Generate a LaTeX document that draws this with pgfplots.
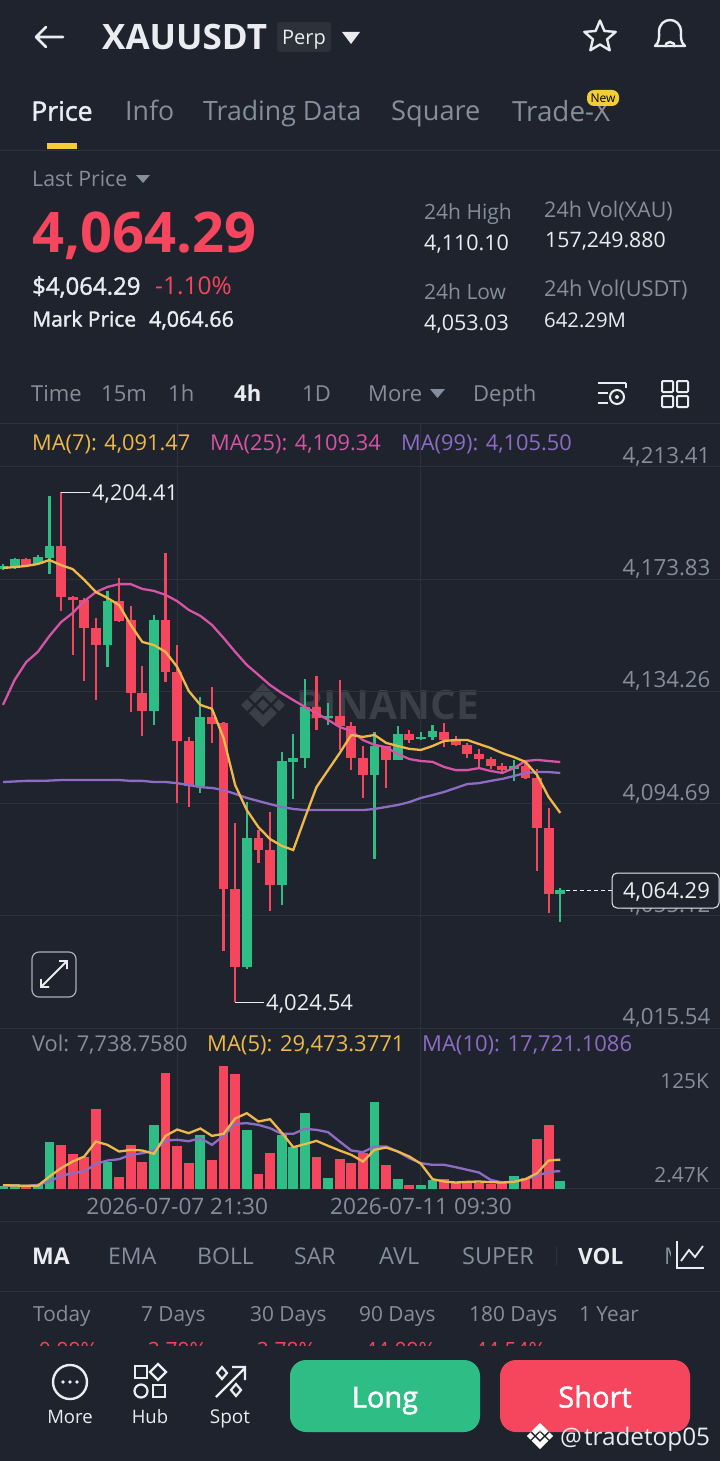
\documentclass[border=0pt]{standalone}
\usepackage{pgfplots}
\usepackage{pgfplotstable}
\pgfplotsset{compat=1.18}
\usepackage{fontspec}
\setmainfont{Open Sans}
\newfontfamily\semi[FakeBold=1.6]{Open Sans}
\definecolor{bg}{HTML}{1E232D}
\definecolor{gridc}{HTML}{2C313A}
\definecolor{up}{HTML}{2EBD85}
\definecolor{dn}{HTML}{F6465D}
\definecolor{gry}{HTML}{848E9C}
\definecolor{wht}{HTML}{EAECEF}
\definecolor{ylw}{HTML}{EEB84A}
\definecolor{pnk}{HTML}{D653A6}
\definecolor{prp}{HTML}{8E6CC4}
\definecolor{wm}{HTML}{3A3F48}
\pgfplotstableread{
i o h l c
0 4177.4 4179.2 4177.1 4178.5
1 4178.5 4181.3 4177.4 4181.0
3 4179.2 4182.4 4178.8 4181.7
4 4181.3 4203.2 4175.7 4185.5
9 4150.6 4169.7 4142.9 4166.1
13 4127.4 4161.2 4122.4 4159.4
17 4100.9 4132.3 4098.4 4125.2
21 4037.1 4095.2 4036.4 4082.6
24 4066.0 4112.9 4058.9 4109.7
25 4109.4 4119.2 4096.3 4110.8
26 4110.8 4138.6 4107.2 4128.8
28 4124.9 4130.2 4122.4 4125.6
32 4104.8 4119.9 4075.1 4115.0
34 4110.1 4122.1 4110.1 4119.2
36 4117.5 4119.9 4117.1 4118.2
37 4118.2 4122.4 4117.1 4120.3
44 4106.9 4110.1 4102.7 4108.0
48 4062.8 4064.9 4052.9 4064.29
}\upc
\pgfplotstableread{
i o h l c
2 4181.0 4181.3 4178.5 4178.8
5 4185.5 4204.41 4162.6 4167.6
6 4167.6 4167.9 4147.1 4166.5
7 4166.5 4167.2 4137.9 4156.6
8 4156.6 4160.2 4131.2 4150.6
10 4166.1 4174.3 4158.7 4159.1
11 4159.4 4164.4 4127.0 4133.7
12 4133.7 4143.2 4118.5 4127.4
14 4159.4 4183.1 4137.6 4141.1
15 4141.1 4150.6 4094.9 4116.8
16 4116.8 4118.2 4093.5 4100.9
18 4125.2 4135.8 4116.1 4122.8
19 4123.1 4123.5 4042.7 4064.6
20 4064.6 4087.8 4024.54 4037.1
22 4082.6 4085.4 4073.7 4078.3
23 4078.3 4091.7 4056.8 4066.0
27 4128.8 4139.7 4120.7 4124.9
29 4125.6 4138.3 4113.6 4122.1
30 4122.1 4123.5 4106.5 4110.8
31 4110.8 4115.0 4096.7 4104.8
33 4115.0 4115.0 4100.2 4110.1
35 4119.2 4120.7 4116.1 4117.1
38 4119.9 4123.1 4114.6 4117.1
39 4116.8 4118.5 4115.0 4115.4
40 4115.4 4116.1 4110.8 4112.2
41 4112.2 4113.9 4107.6 4110.4
42 4110.4 4111.1 4106.9 4108.0
43 4108.0 4109.0 4105.8 4106.5
45 4108.0 4109.4 4103.4 4103.7
46 4103.7 4106.9 4070.9 4086.1
47 4086.1 4093.1 4056.1 4062.8
}\dnc
\pgfplotstableread{
i a b d
0 4177.8 4129.5 4102.3
1 4178.1 4138.3 4102.5
2 4178.5 4144.6 4102.7
3 4179.2 4148.2 4102.7
4 4180.6 4153.8 4102.8
5 4178.8 4158.7 4103.0
6 4177.4 4161.9 4103.0
7 4173.6 4166.1 4103.0
8 4169.3 4169.3 4103.0
9 4167.2 4171.1 4103.0
10 4164.7 4172.1 4103.0
11 4157.7 4172.1 4102.7
12 4151.7 4170.4 4102.7
13 4150.6 4169.7 4102.3
14 4148.2 4168.3 4102.3
15 4142.9 4166.1 4101.9
16 4134.4 4163.0 4101.2
17 4129.5 4160.9 4100.5
18 4128.1 4157.7 4100.2
19 4117.8 4153.1 4099.5
20 4101.2 4148.2 4098.1
21 4092.4 4143.6 4096.7
22 4086.4 4140.1 4095.6
23 4082.2 4136.5 4094.5
24 4079.8 4133.7 4093.5
25 4078.3 4131.2 4092.8
26 4089.6 4128.8 4092.4
27 4100.5 4126.6 4092.4
28 4106.5 4124.2 4092.4
29 4112.5 4121.7 4092.4
30 4118.9 4120.3 4092.4
31 4118.2 4117.1 4092.4
32 4118.9 4115.4 4092.8
33 4116.1 4114.6 4093.5
34 4115.0 4112.2 4094.2
35 4114.0 4110.4 4095.2
36 4113.6 4109.7 4096.7
37 4115.0 4109.4 4097.7
38 4116.8 4107.6 4098.8
39 4117.1 4106.5 4100.2
40 4117.1 4106.5 4101.6
41 4115.7 4107.2 4101.9
42 4114.3 4106.2 4102.7
43 4112.5 4105.5 4103.4
44 4111.1 4107.2 4104.4
45 4109.4 4109.7 4105.5
46 4104.8 4110.1 4105.8
47 4097.0 4109.7 4105.8
48 4091.4 4109.34 4105.5
}\pma
\pgfplotstableread{
i v
0 2470
1 4400
3 4400
4 47600
9 27500
13 64600
17 54400
21 59200
24 54800
25 42800
26 76800
28 10900
32 88000
34 9200
36 3400
37 8200
44 12500
48 7739
}\vup
\pgfplotstableread{
i v
2 2750
5 44600
6 35700
7 32600
8 80900
10 12200
11 44600
12 27500
14 118300
15 43600
16 25800
18 28600
19 125000
20 116600
22 15000
23 36000
27 31900
29 29900
30 26500
31 36700
33 23500
35 3400
38 9900
39 6100
40 6100
41 6100
42 4400
43 6100
45 11200
46 50700
47 65000
}\vdn
\pgfplotstableread{
i a b
0 3400 2720
1 3060 2720
2 2720 2720
3 2720 3740
4 12240 7140
5 20740 12920
6 27540 15640
7 32640 17340
8 47940 25160
9 44540 28560
10 37740 29920
11 39440 34340
12 38760 36040
13 35360 38760
14 53720 48960
15 60180 49640
16 56440 48280
17 61200 51340
18 53720 44540
19 55760 53720
20 71400 65960
21 76840 66640
22 68340 64940
23 70720 61540
24 57120 55760
25 42160 55760
26 45220 60860
27 48620 59840
28 43520 57460
29 38760 47940
30 34340 38760
31 27540 37060
32 39440 42840
33 41820 42840
34 37740 37740
35 32640 30940
36 25160 25840
37 9520 24140
38 7140 24140
39 6120 21760
40 6800 19040
41 7140 16320
42 6460 8840
43 6120 6120
44 6800 7140
45 9520 9520
46 15640 12920
47 28560 17000
48 29473 17721
}\vma
\newcommand{\T}[6][base west]{\node[anchor=#1,inner sep=0pt,text=#5,font=\fontsize{#4}{#4}\selectfont,yshift={-0.36pt*#4}] at (#2,#3) {#6};}
\newcommand{\Logo}[4]{\begin{scope}[shift={(#1,#2)},scale=#3]
\fill[#4] (0,-22)--(14,-8)--(8,-2)--(0,-10)--(-8,-2)--(-14,-8)--cycle;
\fill[#4] (0,22)--(14,8)--(8,2)--(0,10)--(-8,2)--(-14,8)--cycle;
\fill[#4] (-22,0)--(-16,-6)--(-10,0)--(-16,6)--cycle;
\fill[#4] (22,0)--(16,-6)--(10,0)--(16,6)--cycle;
\fill[#4] (0,-6)--(6,0)--(0,6)--(-6,0)--cycle;
\end{scope}}
\pgfplotsset{panel/.style={
 scale only axis,width=720pt,xmin=-0.2584,xmax=61.76,
 xtick={15,36},xmajorgrids,grid style={gridc,line width=1pt},
 tick style={draw=none},clip=true}}
\begin{document}
\begin{tikzpicture}
\fill[bg] (0pt,0pt) rectangle (720pt,-1461pt);
\path[use as bounding box] (0pt,0pt) rectangle (720pt,-1461pt);
\begin{scope}[x=1pt,y=-1pt]
\Logo{263}{705}{1}{wm}
\T{296}{705}{40.5}{wm}{\bfseries BINANCE}
\end{scope}
\begin{axis}[panel,at={(0pt,-1028pt)},anchor=south west,height=605pt,
 ymin=4015.54,ymax=4228.92,
 axis line style={draw=none},
 xticklabels={},
 ytick={4015.54,4055.12,4094.69,4134.26,4173.83,4213.41},ymajorgrids,
 yticklabel pos=right,
 /pgf/number format/.cd,assume math mode=true,fixed,fixed zerofill,precision=2,1000 sep={,},
 /pgfplots/.cd,
 y tick label style={anchor=south east,xshift=-6pt,yshift=-3pt,text=gry,font=\fontsize{22.3}{22.3}\selectfont}]
\addplot[draw=none,mark=none,error bars/.cd,y dir=plus,y explicit,error mark=none,error bar style={draw=up,line width=2.2pt}] table[x=i,y=l,y error plus expr=\thisrow{h}-\thisrow{l}] {\upc};
\addplot[draw=none,mark=none,error bars/.cd,y dir=plus,y explicit,error mark=none,error bar style={draw=up,line width=9.8pt}] table[x=i,y=o,y error plus expr=\thisrow{c}-\thisrow{o}] {\upc};
\addplot[draw=none,mark=none,error bars/.cd,y dir=plus,y explicit,error mark=none,error bar style={draw=dn,line width=2.2pt}] table[x=i,y=l,y error plus expr=\thisrow{h}-\thisrow{l}] {\dnc};
\addplot[draw=none,mark=none,error bars/.cd,y dir=plus,y explicit,error mark=none,error bar style={draw=dn,line width=9.8pt}] table[x=i,y=c,y error plus expr=\thisrow{o}-\thisrow{c}] {\dnc};
\addplot[prp,line width=2.3pt,mark=none] table[x=i,y=d] {\pma};
\addplot[pnk,line width=2.3pt,mark=none] table[x=i,y=b] {\pma};
\addplot[ylw,line width=2.3pt,mark=none] table[x=i,y=a] {\pma};
\end{axis}
\begin{axis}[panel,at={(0pt,-1188.5pt)},anchor=south west,height=160.5pt,
 ymin=0,ymax=163710,ytick=\empty,
 separate axis lines,
 x axis line style={draw=gridc,line width=1pt},
 y axis line style={draw=none},
 axis x line*=bottom,
 xticklabels={2026-07-07 21:30,2026-07-11 09:30},
 x tick label style={text=gry,font=\fontsize{22.6}{22.6}\selectfont,yshift=-6pt}]
\addplot[ycomb,up,line width=9.8pt,mark=none] table[x=i,y=v] {\vup};
\addplot[ycomb,dn,line width=9.8pt,mark=none] table[x=i,y=v] {\vdn};
\addplot[prp,line width=2.3pt,mark=none] table[x=i,y=b] {\vma};
\addplot[ylw,line width=2.3pt,mark=none] table[x=i,y=a] {\vma};
\end{axis}
\begin{scope}[x=1pt,y=-1pt]
% top bar
\draw[wht,line width=2.6pt,line cap=round,line join=round] (36,37)--(63,37) (46,27)--(36,37)--(46,47);
\T{102}{37}{35}{wht}{\bfseries XAUUSDT}
\fill[gridc,rounded corners=3pt] (277,22) rectangle (331,52);
\T[base]{304}{37}{20}{wht}{Perp}
\fill[wht] (342,32)--(360,32)--(351,44)--cycle;
\draw[wht,line width=2.4pt,line join=round] (600,20.5)--(604.4,31)--(615.7,31.9)--(607.1,39.3)--(609.7,50.3)--(600,44.5)--(590.3,50.3)--(592.9,39.3)--(584.3,31.9)--(595.6,31)--cycle;
\draw[wht,line width=2.4pt,line join=round] (655,46) .. controls (660,42) and (659,36) .. (659,32) .. controls (659,16) and (681,16) .. (681,32) .. controls (681,36) and (680,42) .. (685,46) -- cycle;
\draw[wht,line width=2.4pt] (665,47) arc[start angle=180,end angle=0,x radius=5,y radius=-5];
% tabs
\T{31}{111}{26.7}{wht}{\semi Price}
\T{125}{111}{26.7}{gry}{Info}
\T{203}{111}{26.7}{gry}{Trading Data}
\T{391}{111}{27.2}{gry}{Square}
\T{512}{111}{27.8}{gry}{Trade-X}
\fill[ylw!70!yellow,rounded corners=7pt] (587,90) rectangle (619,106);
\T[base]{603}{98}{12}{black}{New}
\fill[ylw!70!yellow] (47,143) rectangle (77,149);
\draw[gridc,line width=1pt] (0,150)--(720,150);
% price block
\T{32}{179}{21.3}{gry}{Last Price}
\fill[gry] (136,175)--(150,175)--(143,183)--cycle;
\T{32}{232}{56}{dn}{\bfseries 4,064.29}
\T{32}{286}{24}{wht}{\semi \$4,064.29}
\T{155}{286}{24.5}{dn}{-1.10\%}
\T{32}{319}{21}{wht}{\semi Mark Price}
\T{149}{319}{21.5}{wht}{\semi 4,064.66}
\T{424}{212}{21}{gry}{24h High}
\T{424}{243}{21.5}{wht}{4,110.10}
\T{544}{210}{21.5}{gry}{24h Vol(XAU)}
\T{545}{240}{21.3}{wht}{157,249.880}
\T{424}{292}{21}{gry}{24h Low}
\T{424}{323}{21.5}{wht}{4,053.03}
\T{544}{289}{21.8}{gry}{24h Vol(USDT)}
\T{544}{320}{20.3}{wht}{642.29M}
% intervals
\T{31}{394}{22}{gry}{Time}
\T{101}{394}{22}{gry}{15m}
\T{168}{394}{22}{gry}{1h}
\T{234}{394}{22}{wht}{\bfseries 4h}
\T{302}{394}{22}{gry}{1D}
\T{368}{394}{22}{gry}{More}
\fill[gry] (430,389)--(445,389)--(437.5,398)--cycle;
\T{473}{394}{22}{gry}{Depth}
\draw[wht,line width=2pt] (598,383)--(626,383) (598,393)--(608,393) (598,403)--(608,403) (626,383)--(626,388);
\draw[wht,line width=2pt] (617,397) circle[radius=7];
\fill[wht] (617,397) circle[radius=2];
\foreach \a/\b in {662/381,677/381,662/396,677/396}{\draw[wht,line width=2pt,rounded corners=1pt] (\a,\b) rectangle ++(11,11);}
\draw[gridc,line width=1pt] (0,423)--(720,423);
\T{32}{443}{21.8}{ylw}{MA(7): 4,091.47}
\T{210}{443}{21.8}{pnk}{MA(25): 4,109.34}
\T{401}{443}{21.8}{prp}{MA(99): 4,105.50}
% extremes
\draw[wht,line width=1pt] (61,492)--(90,492);
\T{92}{493}{21.8}{wht}{4,204.41}
\draw[wht,line width=1pt] (235,1002)--(264,1002);
\T{266}{1003}{22}{wht}{4,024.54}
% current price
\draw[wht,line width=1pt,dash pattern=on 4pt off 3pt] (566,890)--(612,890);
\draw[wht,fill=bg,line width=1pt,rounded corners=5pt] (612,873) rectangle (719,908);
\T[base]{666.5}{891}{22}{wht}{4,064.29}
% expand
\draw[gry!70,line width=1.2pt,rounded corners=7pt] (32,952) rectangle (76,997);
\draw[wht,line width=1.8pt] (41,987)--(67,961) (59,961)--(67,961)--(67,969) (41,979)--(41,987)--(49,987);
% volume
\T{32}{1044}{21.8}{gry}{Vol: 7,738.7580}
\T{207}{1044}{22}{ylw}{MA(5): 29,473.3771}
\T{422}{1044}{22}{prp}{MA(10): 17,721.1086}
\T[base east]{709}{1081}{20.8}{gry}{125K}
\T[base east]{709}{1175}{21}{gry}{2.47K}
\draw[gridc,line width=1pt] (0,1221)--(720,1221);
% indicators
\T{32}{1256}{23}{wht}{\bfseries MA}
\T{108}{1256}{23}{gry}{EMA}
\T{197}{1256}{23}{gry}{BOLL}
\T{294}{1256}{23}{gry}{SAR}
\T{379}{1256}{23.5}{gry}{AVL}
\T{462}{1256}{23.5}{gry}{SUPER}
\draw[gridc,line width=1pt] (556,1246)--(556,1266);
\T{578}{1256}{22.5}{wht}{\bfseries VOL}
\begin{scope}\clip (640,1240) rectangle (670,1270);\T{664}{1256}{23}{gry}{MA}\end{scope}
\draw[wht,line width=1.8pt] (677,1241)--(677,1268)--(704,1268);
\draw[wht,line width=1.8pt] (681,1261)--(689,1250)--(695,1257)--(703,1246);
\draw[gridc,line width=1pt] (0,1291)--(720,1291);
\T{33}{1314}{20.8}{gry}{Today}
\T{141}{1314}{20.8}{gry}{7 Days}
\T{250}{1314}{20.8}{gry}{30 Days}
\T{359}{1314}{20.8}{gry}{90 Days}
\T{469}{1314}{20.8}{gry}{180 Days}
\T{579}{1314}{20.8}{gry}{1 Year}
\begin{scope}\clip (0,1335) rectangle (720,1345);
\T[base east]{98}{1350}{21}{dn}{0.99\%}
\T[base east]{207}{1350}{21}{dn}{2.79\%}
\T[base east]{316}{1350}{21}{dn}{2.78\%}
\T[base east]{436}{1350}{21}{dn}{44.09\%}
\T[base east]{546}{1350}{21}{dn}{44.54\%}
\end{scope}
% bottom bar
\draw[wht,line width=2.4pt] (70,1382) circle[radius=17];
\foreach \a in {63,70,77}{\fill[wht] (\a,1382) circle[radius=1.8];}
\T[base]{70}{1417}{18.5}{wht}{More}
\draw[wht,line width=2.2pt] (135,1366) rectangle (147,1378);
\draw[wht,line width=2.2pt] (158,1364)--(166,1372)--(158,1380)--(150,1372)--cycle;
\draw[wht,line width=2.2pt] (141,1391) circle[radius=6.5];
\draw[wht,line width=2.2pt] (153,1385) rectangle (165,1397);
\T[base]{150}{1417}{18.5}{wht}{Hub}
\draw[wht,line width=2.2pt] (216,1397)--(244,1369) (232,1367)--(245,1367)--(245,1380);
\draw[wht,line width=2.2pt] (222,1367)--(227,1373)--(222,1379)--(217,1373)--cycle;
\draw[wht,line width=2.2pt] (236,1384)--(241,1390)--(236,1396)--(231,1390)--cycle;
\T[base]{230}{1417}{19}{wht}{Spot}
\fill[up,rounded corners=16pt] (290,1360) rectangle (480,1432);
\T[base]{385}{1397}{29}{white}{\semi Long}
\fill[dn,rounded corners=16pt] (500,1360) rectangle (690,1432);
\T[base]{595}{1397}{29}{white}{\semi Short}
\Logo{540}{1436}{0.6}{white}
\T{560}{1437}{24.3}{wht}{@\hspace{2pt}tradetop05}
\end{scope}
\end{tikzpicture}
\end{document}
